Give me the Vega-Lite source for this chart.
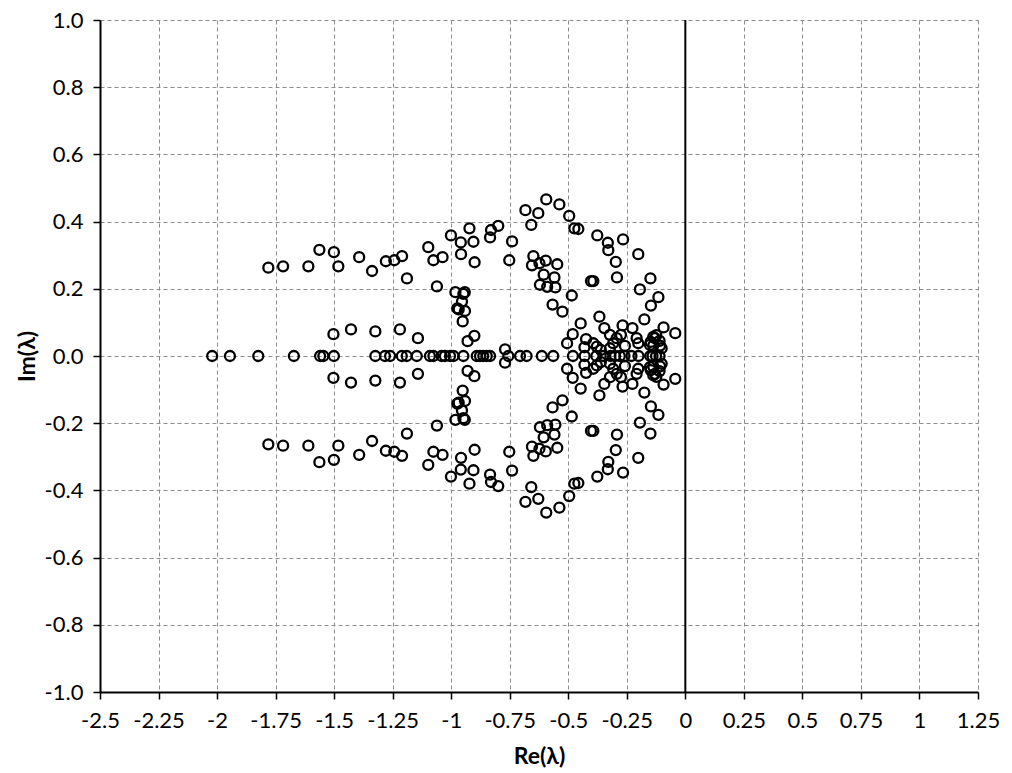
{
  "$schema": "https://vega.github.io/schema/vega-lite/v6.json",
  "autosize": "none",
  "width": 878,
  "height": 672,
  "padding": {"left": 100, "top": 20, "right": 34, "bottom": 81},
  "background": "white",
  "config": {
    "view": {"stroke": null},
    "font": "Lato",
    "axis": {
      "labelFont": "Lato",
      "labelFontSize": 22,
      "labelColor": "black",
      "titleFont": "Lato",
      "titleFontSize": 23,
      "titleFontWeight": "bold",
      "titleColor": "black",
      "domainColor": "black",
      "domainWidth": 2,
      "tickColor": "black",
      "tickWidth": 1.5,
      "tickSize": 7,
      "gridColor": "#8c8c8c",
      "gridDash": [4, 3],
      "gridWidth": 1,
      "labelFlush": false,
      "labelOverlap": false,
      "labelBound": false
    }
  },
  "layer": [
    {
      "data": {"values": [
        {"re": -1.781, "im": 0.263}, {"re": -1.718, "im": 0.267}, {"re": -1.610, "im": 0.267}, {"re": -1.563, "im": 0.316},
        {"re": -1.501, "im": 0.309}, {"re": -1.482, "im": 0.267}, {"re": -1.393, "im": 0.294}, {"re": -1.338, "im": 0.253},
        {"re": -1.279, "im": 0.282}, {"re": -1.243, "im": 0.285}, {"re": -1.210, "im": 0.297}, {"re": -1.189, "im": 0.231},
        {"re": -1.098, "im": 0.324}, {"re": -1.076, "im": 0.285}, {"re": -1.037, "im": 0.294}, {"re": -1.061, "im": 0.207},
        {"re": -1.001, "im": 0.359}, {"re": -0.959, "im": 0.338}, {"re": -0.922, "im": 0.380}, {"re": -0.905, "im": 0.340},
        {"re": -0.958, "im": 0.303}, {"re": -0.900, "im": 0.279}, {"re": -0.834, "im": 0.353}, {"re": -0.830, "im": 0.375},
        {"re": -0.799, "im": 0.387}, {"re": -0.740, "im": 0.341}, {"re": -0.752, "im": 0.285}, {"re": -0.683, "im": 0.434},
        {"re": -0.628, "im": 0.425}, {"re": -0.594, "im": 0.466}, {"re": -0.538, "im": 0.451}, {"re": -0.658, "im": 0.390},
        {"re": -0.496, "im": 0.417}, {"re": -0.474, "im": 0.380}, {"re": -0.457, "im": 0.378}, {"re": -0.376, "im": 0.359},
        {"re": -0.331, "im": 0.337}, {"re": -0.329, "im": 0.315}, {"re": -0.266, "im": 0.347}, {"re": -0.201, "im": 0.303},
        {"re": -0.297, "im": 0.280}, {"re": -0.292, "im": 0.234}, {"re": -0.149, "im": 0.231}, {"re": -0.194, "im": 0.198},
        {"re": -0.115, "im": 0.175}, {"re": -0.147, "im": 0.150}, {"re": -0.175, "im": 0.109}, {"re": -0.093, "im": 0.085},
        {"re": -0.043, "im": 0.068}, {"re": -0.649, "im": 0.297}, {"re": -0.655, "im": 0.270}, {"re": -0.623, "im": 0.276},
        {"re": -0.596, "im": 0.284}, {"re": -0.547, "im": 0.273}, {"re": -0.605, "im": 0.242}, {"re": -0.559, "im": 0.234},
        {"re": -0.621, "im": 0.212}, {"re": -0.590, "im": 0.206}, {"re": -0.555, "im": 0.204}, {"re": -0.485, "im": 0.180},
        {"re": -0.567, "im": 0.153}, {"re": -0.525, "im": 0.132}, {"re": -0.403, "im": 0.223}, {"re": -0.393, "im": 0.223},
        {"re": -0.367, "im": 0.117}, {"re": -0.447, "im": 0.097}, {"re": -0.346, "im": 0.083}, {"re": -0.268, "im": 0.091},
        {"re": -0.226, "im": 0.083}, {"re": -0.481, "im": 0.065}, {"re": -0.505, "im": 0.038}, {"re": -0.424, "im": 0.050},
        {"re": -0.431, "im": 0.026}, {"re": -0.393, "im": 0.038}, {"re": -0.378, "im": 0.028}, {"re": -0.322, "im": 0.063},
        {"re": -0.293, "im": 0.053}, {"re": -0.275, "im": 0.063}, {"re": -0.308, "im": 0.038}, {"re": -0.258, "im": 0.030},
        {"re": -0.208, "im": 0.053}, {"re": -0.201, "im": 0.038}, {"re": -0.137, "im": 0.057}, {"re": -0.130, "im": 0.053},
        {"re": -0.124, "im": 0.062}, {"re": -0.151, "im": 0.033}, {"re": -0.137, "im": 0.031}, {"re": -0.108, "im": 0.031},
        {"re": -0.101, "im": 0.023}, {"re": -0.361, "im": 0.018}, {"re": -0.322, "im": 0.023}, {"re": -0.148, "im": 0.042},
        {"re": -0.110, "im": 0.045}, {"re": -1.503, "im": 0.065}, {"re": -1.428, "im": 0.079}, {"re": -1.324, "im": 0.073},
        {"re": -1.219, "im": 0.079}, {"re": -1.142, "im": 0.053}, {"re": -0.982, "im": 0.190}, {"re": -0.948, "im": 0.185},
        {"re": -0.942, "im": 0.190}, {"re": -0.954, "im": 0.162}, {"re": -0.974, "im": 0.142}, {"re": -0.968, "im": 0.139},
        {"re": -0.941, "im": 0.134}, {"re": -0.951, "im": 0.103}, {"re": -0.930, "im": 0.044}, {"re": -0.901, "im": 0.060},
        {"re": -0.770, "im": 0.020},

        {"re": -1.781, "im": -0.263}, {"re": -1.718, "im": -0.267}, {"re": -1.610, "im": -0.267}, {"re": -1.563, "im": -0.316},
        {"re": -1.501, "im": -0.309}, {"re": -1.482, "im": -0.267}, {"re": -1.393, "im": -0.294}, {"re": -1.338, "im": -0.253},
        {"re": -1.279, "im": -0.282}, {"re": -1.243, "im": -0.285}, {"re": -1.210, "im": -0.297}, {"re": -1.189, "im": -0.231},
        {"re": -1.098, "im": -0.324}, {"re": -1.076, "im": -0.285}, {"re": -1.037, "im": -0.294}, {"re": -1.061, "im": -0.207},
        {"re": -1.001, "im": -0.359}, {"re": -0.959, "im": -0.338}, {"re": -0.922, "im": -0.380}, {"re": -0.905, "im": -0.340},
        {"re": -0.958, "im": -0.303}, {"re": -0.900, "im": -0.279}, {"re": -0.834, "im": -0.353}, {"re": -0.830, "im": -0.375},
        {"re": -0.799, "im": -0.387}, {"re": -0.740, "im": -0.341}, {"re": -0.752, "im": -0.285}, {"re": -0.683, "im": -0.434},
        {"re": -0.628, "im": -0.425}, {"re": -0.594, "im": -0.466}, {"re": -0.538, "im": -0.451}, {"re": -0.658, "im": -0.390},
        {"re": -0.496, "im": -0.417}, {"re": -0.474, "im": -0.380}, {"re": -0.457, "im": -0.378}, {"re": -0.376, "im": -0.359},
        {"re": -0.331, "im": -0.337}, {"re": -0.329, "im": -0.315}, {"re": -0.266, "im": -0.347}, {"re": -0.201, "im": -0.303},
        {"re": -0.297, "im": -0.280}, {"re": -0.292, "im": -0.234}, {"re": -0.149, "im": -0.231}, {"re": -0.194, "im": -0.198},
        {"re": -0.115, "im": -0.175}, {"re": -0.147, "im": -0.150}, {"re": -0.175, "im": -0.109}, {"re": -0.093, "im": -0.085},
        {"re": -0.043, "im": -0.068}, {"re": -0.649, "im": -0.297}, {"re": -0.655, "im": -0.270}, {"re": -0.623, "im": -0.276},
        {"re": -0.596, "im": -0.284}, {"re": -0.547, "im": -0.273}, {"re": -0.605, "im": -0.242}, {"re": -0.559, "im": -0.234},
        {"re": -0.621, "im": -0.212}, {"re": -0.590, "im": -0.206}, {"re": -0.555, "im": -0.204}, {"re": -0.485, "im": -0.180},
        {"re": -0.567, "im": -0.153}, {"re": -0.525, "im": -0.132}, {"re": -0.403, "im": -0.223}, {"re": -0.393, "im": -0.223},
        {"re": -0.367, "im": -0.117}, {"re": -0.447, "im": -0.097}, {"re": -0.346, "im": -0.083}, {"re": -0.268, "im": -0.091},
        {"re": -0.226, "im": -0.083}, {"re": -0.481, "im": -0.065}, {"re": -0.505, "im": -0.038}, {"re": -0.424, "im": -0.050},
        {"re": -0.431, "im": -0.026}, {"re": -0.393, "im": -0.038}, {"re": -0.378, "im": -0.028}, {"re": -0.322, "im": -0.063},
        {"re": -0.293, "im": -0.053}, {"re": -0.275, "im": -0.063}, {"re": -0.308, "im": -0.038}, {"re": -0.258, "im": -0.030},
        {"re": -0.208, "im": -0.053}, {"re": -0.201, "im": -0.038}, {"re": -0.137, "im": -0.057}, {"re": -0.130, "im": -0.053},
        {"re": -0.124, "im": -0.062}, {"re": -0.151, "im": -0.033}, {"re": -0.137, "im": -0.031}, {"re": -0.108, "im": -0.031},
        {"re": -0.101, "im": -0.023}, {"re": -0.361, "im": -0.018}, {"re": -0.322, "im": -0.023}, {"re": -0.148, "im": -0.042},
        {"re": -0.110, "im": -0.045}, {"re": -1.503, "im": -0.065}, {"re": -1.428, "im": -0.079}, {"re": -1.324, "im": -0.073},
        {"re": -1.219, "im": -0.079}, {"re": -1.142, "im": -0.053}, {"re": -0.982, "im": -0.190}, {"re": -0.948, "im": -0.185},
        {"re": -0.942, "im": -0.190}, {"re": -0.954, "im": -0.162}, {"re": -0.974, "im": -0.142}, {"re": -0.968, "im": -0.139},
        {"re": -0.941, "im": -0.134}, {"re": -0.951, "im": -0.103}, {"re": -0.930, "im": -0.044}, {"re": -0.901, "im": -0.060},
        {"re": -0.770, "im": -0.020},

        {"re": -2.021, "im": 0}, {"re": -1.945, "im": 0}, {"re": -1.824, "im": 0}, {"re": -1.672, "im": 0},
        {"re": -1.560, "im": 0}, {"re": -1.546, "im": 0}, {"re": -1.501, "im": 0}, {"re": -1.324, "im": 0},
        {"re": -1.283, "im": 0}, {"re": -1.261, "im": 0}, {"re": -1.211, "im": 0}, {"re": -1.190, "im": 0},
        {"re": -1.147, "im": 0}, {"re": -1.091, "im": 0}, {"re": -1.076, "im": 0}, {"re": -1.041, "im": 0},
        {"re": -1.027, "im": 0}, {"re": -1.005, "im": 0}, {"re": -0.990, "im": 0}, {"re": -0.948, "im": 0},
        {"re": -0.891, "im": 0}, {"re": -0.877, "im": 0}, {"re": -0.863, "im": 0}, {"re": -0.848, "im": 0},
        {"re": -0.834, "im": 0}, {"re": -0.756, "im": 0}, {"re": -0.706, "im": 0}, {"re": -0.678, "im": 0},
        {"re": -0.613, "im": 0}, {"re": -0.564, "im": 0}, {"re": -0.480, "im": 0}, {"re": -0.430, "im": 0},
        {"re": -0.380, "im": 0}, {"re": -0.350, "im": 0}, {"re": -0.320, "im": 0}, {"re": -0.300, "im": 0},
        {"re": -0.280, "im": 0}, {"re": -0.260, "im": 0}, {"re": -0.230, "im": 0}, {"re": -0.200, "im": 0},
        {"re": -0.150, "im": 0}, {"re": -0.140, "im": 0}, {"re": -0.125, "im": 0}, {"re": -0.110, "im": 0}
      ]},
      "mark": {"type": "point", "shape": "circle", "filled": false, "stroke": "black", "strokeWidth": 2.3, "size": 100, "opacity": 1},
      "encoding": {
        "x": {
          "field": "re", "type": "quantitative",
          "scale": {"domain": [-2.5, 1.25], "nice": false, "zero": false},
          "axis": {
            "title": "Re(λ)",
            "values": [-2.5, -2.25, -2, -1.75, -1.5, -1.25, -1, -0.75, -0.5, -0.25, 0, 0.25, 0.5, 0.75, 1, 1.25],
            "labelExpr": "replace(format(datum.value, '.2~f'), '−', '-')",
            "labelPadding": 11,
            "titlePadding": 14
          }
        },
        "y": {
          "field": "im", "type": "quantitative",
          "scale": {"domain": [-1, 1], "nice": false, "zero": false},
          "axis": {
            "title": "Im(λ)",
            "values": [-1, -0.8, -0.6, -0.4, -0.2, 0, 0.2, 0.4, 0.6, 0.8, 1],
            "labelExpr": "replace(format(datum.value, '.1f'), '−', '-')",
            "labelPadding": 10,
            "titlePadding": 5
          }
        }
      }
    },
    {
      "data": {"values": [{}]},
      "mark": {"type": "rule", "color": "black", "strokeWidth": 2},
      "encoding": {"x": {"datum": 0, "type": "quantitative"}}
    }
  ]
}
